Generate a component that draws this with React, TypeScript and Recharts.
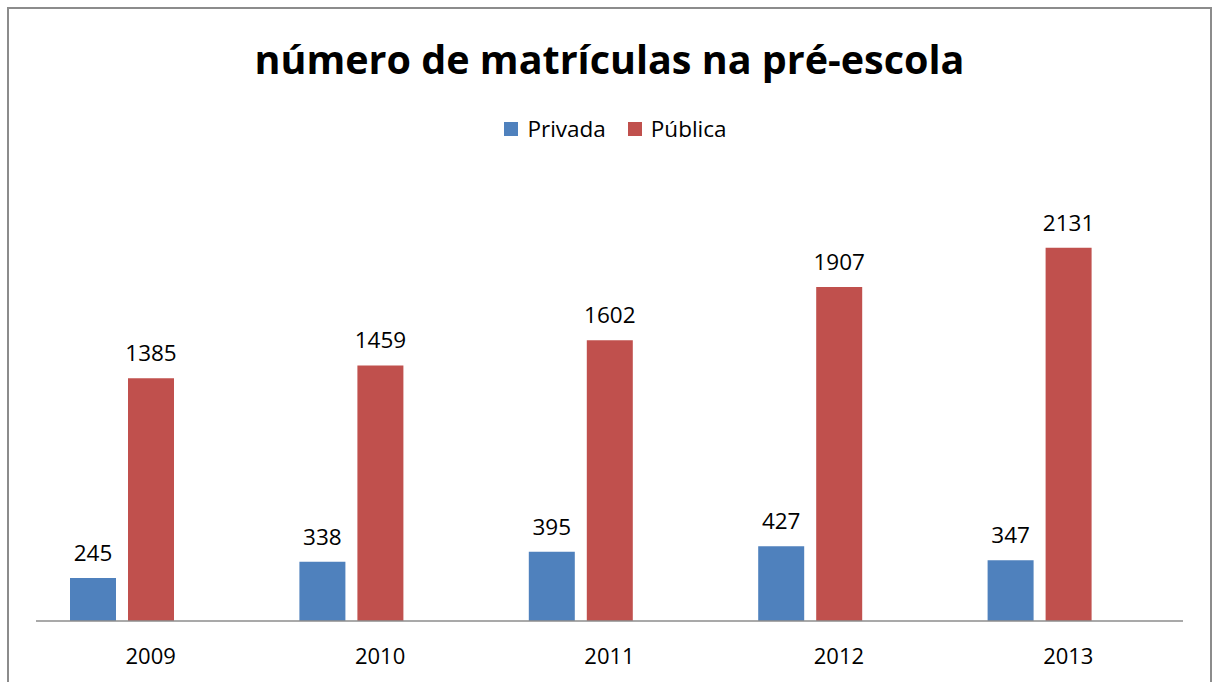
import { BarChart, Bar, XAxis, YAxis, LabelList } from "recharts";

const years = ["2009", "2010", "2011", "2012", "2013"];
const privada = [245, 338, 395, 427, 347];
const publica = [1385, 1459, 1602, 1907, 2131];

const seriesNames = { privada: "Privada", publica: "Pública" };
const colors = { privada: "#4F81BD", publica: "#C0504D" };

const data = years.map((year, i) => ({
  year,
  privada: privada[i],
  publica: publica[i]
}));

const font = "'Open Sans', sans-serif";

export default function App() {
  return (
    <div
      style={{
        position: "absolute",
        left: 0,
        top: 0,
        width: 1213,
        height: 682,
        overflow: "hidden",
        background: "#fff",
        fontFamily: font
      }}
    >
      <div
        style={{
          position: "absolute",
          left: 7,
          top: 7,
          width: 1201,
          height: 700,
          border: "2px solid #8c8c8c"
        }}
      />
      <div
        style={{
          position: "absolute",
          left: 3,
          width: 1213,
          top: 31,
          textAlign: "center",
          fontSize: 39.5,
          fontWeight: 700,
          lineHeight: "56px",
          color: "#000"
        }}
      >
        número de matrículas na pré-escola
      </div>
      <div
        style={{
          position: "absolute",
          left: 9,
          width: 1213,
          top: 113,
          display: "flex",
          justifyContent: "center",
          gap: 22,
          fontSize: 22.5,
          lineHeight: "32px",
          color: "#000"
        }}
      >
        {(["privada", "publica"] as const).map(k => (
          <span key={k} style={{ display: "flex", alignItems: "center" }}>
            <span
              style={{
                display: "inline-block",
                width: 14,
                height: 14,
                background: colors[k],
                marginRight: 9
              }}
            />
            {seriesNames[k]}
          </span>
        ))}
      </div>
      <div style={{ position: "absolute", left: 0, top: 0 }}>
        <BarChart
          width={1213}
          height={682}
          data={data}
          margin={{ top: 183, right: 30, bottom: 25, left: 36 }}
          barSize={46}
          barGap={12}
        >
          <XAxis
            dataKey="year"
            height={36}
            tickLine={false}
            axisLine={{ stroke: "#8c8c8c", strokeWidth: 1.5 }}
            tick={{ fill: "#000", fontSize: 22, fontFamily: font, dy: 19 }}
          />
          <YAxis hide width={0} domain={[0, 2500]} />
          <Bar dataKey="privada" fill={colors.privada} isAnimationActive={false}>
            <LabelList
              dataKey="privada"
              position="top"
              offset={17}
              fill="#000"
              fontSize={22.5}
              fontFamily={font}
            />
          </Bar>
          <Bar dataKey="publica" fill={colors.publica} isAnimationActive={false}>
            <LabelList
              dataKey="publica"
              position="top"
              offset={17}
              fill="#000"
              fontSize={22.5}
              fontFamily={font}
            />
          </Bar>
          {/* empty third series slot, as in the source spreadsheet */}
          <Bar dataKey="extra" legendType="none" isAnimationActive={false} />
        </BarChart>
      </div>
    </div>
  );
}
